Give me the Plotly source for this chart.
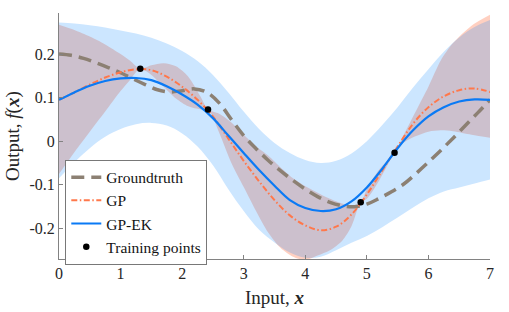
import plotly.graph_objects as go

# ---------------- data ----------------
x_grid = [0, 0.25, 0.5, 0.75, 1.0, 1.25, 1.5, 1.75, 2.0, 2.25, 2.5, 2.75, 3.0, 3.25,
          3.5, 3.75, 4.0, 4.25, 4.5, 4.75, 5.0, 5.25, 5.5, 5.75, 6.0, 6.25, 6.5, 6.75, 7.0]

x_truth = [0, 0.2, 0.4, 0.6, 0.8, 1.0, 1.2, 1.4, 1.6, 1.8, 2.0, 2.2, 2.4, 2.6, 2.8, 3.0,
           3.2, 3.4, 3.6, 3.8, 4.0, 4.2, 4.4, 4.6, 4.8, 5.0, 5.2, 5.4, 5.6, 5.8, 6.0,
           6.2, 6.4, 6.6, 6.8, 7.0]
y_truth = [0.2, 0.197, 0.19, 0.18, 0.169, 0.157, 0.143, 0.13, 0.118, 0.113, 0.116, 0.12,
           0.112, 0.088, 0.05, 0.013, -0.017, -0.044, -0.068, -0.09, -0.11, -0.127, -0.14,
           -0.148, -0.15, -0.144, -0.131, -0.116, -0.098, -0.074, -0.048, -0.021, 0.007,
           0.036, 0.065, 0.095]

gp_mean = [0.095, 0.112, 0.13, 0.146, 0.158, 0.165, 0.163, 0.148, 0.125, 0.095, 0.057,
           0.006, -0.045, -0.092, -0.135, -0.17, -0.193, -0.204, -0.196, -0.168, -0.122,
           -0.067, -0.012, 0.04, 0.078, 0.103, 0.117, 0.121, 0.113]

ek_mean = [0.095, 0.112, 0.127, 0.138, 0.144, 0.145, 0.14, 0.126, 0.107, 0.084, 0.053,
           0.013, -0.027, -0.066, -0.102, -0.135, -0.153, -0.16, -0.156, -0.138, -0.106,
           -0.063, -0.016, 0.025, 0.057, 0.078, 0.091, 0.096, 0.095]
ek_upper = [0.272, 0.27, 0.266, 0.261, 0.254, 0.247, 0.237, 0.224, 0.207, 0.184, 0.152,
            0.112, 0.068, 0.028, -0.004, -0.027, -0.043, -0.05, -0.045, -0.028, 0.0,
            0.037, 0.078, 0.123, 0.165, 0.205, 0.238, 0.262, 0.278]
ek_lower = [-0.085, -0.048, -0.016, 0.01, 0.028, 0.039, 0.042, 0.036, 0.018, -0.012,
            -0.055, -0.11, -0.16, -0.203, -0.232, -0.255, -0.267, -0.265, -0.25, -0.233,
            -0.217, -0.197, -0.175, -0.152, -0.131, -0.115, -0.106, -0.097, -0.088]

x_gp_band = [0, 0.25, 0.5, 0.75, 1.0, 1.15, 1.32, 1.5, 1.7, 1.9, 2.1, 2.3, 2.42, 2.6, 2.8,
             3.0, 3.2, 3.4, 3.6, 3.8, 4.0, 4.2, 4.4, 4.6, 4.75, 4.9, 5.0, 5.2, 5.45, 5.6,
             5.8, 6.0, 6.2, 6.4, 6.7, 7.0]
gp_upper = [0.267, 0.255, 0.24, 0.222, 0.2, 0.185, 0.166, 0.174, 0.179, 0.172, 0.148, 0.102,
            0.0725, 0.063, 0.043, 0.015, -0.012, -0.033, -0.06, -0.085, -0.103, -0.118,
            -0.132, -0.143, -0.148, -0.14, -0.11, -0.065, -0.0265, 0.015, 0.07, 0.125,
            0.185, 0.225, 0.265, 0.29]
gp_lower = [-0.075, -0.025, 0.022, 0.068, 0.115, 0.14, 0.166, 0.152, 0.125, 0.098, 0.08,
            0.073, 0.0725, 0.02, -0.05, -0.105, -0.16, -0.21, -0.245, -0.265, -0.272,
            -0.262, -0.25, -0.228, -0.195, -0.14, -0.132, -0.09, -0.0265, -0.003, 0.012,
            0.022, 0.025, 0.023, 0.015, 0.008]

x_train = [1.32, 2.42, 4.9, 5.45]
y_train = [0.166, 0.0725, -0.14, -0.0265]

x_ticks = [0, 1, 2, 3, 4, 5, 6, 7]
y_ticks = [-0.2, -0.1, 0, 0.1, 0.2]
y_ticktext = ["-0.2", "-0.1", "0", "0.1", "0.2"]

# ---------------- styles ----------------
FONT = "Liberation Serif"
GP_COLOR = "rgb(255,120,75)"
EK_COLOR = "rgb(10,122,245)"
GT_COLOR = "rgb(140,128,115)"
AX_COLOR = "rgb(130,130,130)"

fig = go.Figure()

# GP band (drawn first)
fig.add_trace(go.Scatter(x=x_gp_band, y=gp_upper, mode="lines", line=dict(width=0, shape="spline", smoothing=0.8),
                         showlegend=False, hoverinfo="skip"))
fig.add_trace(go.Scatter(x=x_gp_band, y=gp_lower, mode="lines", line=dict(width=0, shape="spline", smoothing=0.8),
                         fill="tonexty", fillcolor="rgba(255,100,50,0.30)", showlegend=False, hoverinfo="skip"))
# GP-EK band
fig.add_trace(go.Scatter(x=x_grid, y=ek_upper, mode="lines", line=dict(width=0, shape="spline"),
                         showlegend=False, hoverinfo="skip"))
fig.add_trace(go.Scatter(x=x_grid, y=ek_lower, mode="lines", line=dict(width=0, shape="spline"),
                         fill="tonexty", fillcolor="rgba(0,128,255,0.20)", showlegend=False, hoverinfo="skip"))

fig.add_trace(go.Scatter(x=x_truth, y=y_truth, mode="lines", name="Groundtruth",
                         line=dict(color=GT_COLOR, width=3.5, dash="13px,7px", shape="spline")))
fig.add_trace(go.Scatter(x=x_grid, y=gp_mean, mode="lines", name="GP",
                         line=dict(color=GP_COLOR, width=2, dash="6px,2.5px,1.5px,2.5px", shape="spline")))
fig.add_trace(go.Scatter(x=x_grid, y=ek_mean, mode="lines", name="GP-EK",
                         line=dict(color=EK_COLOR, width=2.2, shape="spline")))
fig.add_trace(go.Scatter(x=x_train, y=y_train, mode="markers", name="Training points",
                         marker=dict(color="black", size=6.5)))

axis_common = dict(showgrid=False, zeroline=False, showline=True, linecolor=AX_COLOR, linewidth=1,
                   ticks="inside", ticklen=4, tickcolor=AX_COLOR, tickwidth=1, automargin=False,
                   tickfont=dict(family=FONT, size=16, color="rgb(38,38,38)"))

fig.update_xaxes(range=[0, 7], tickvals=x_ticks, **axis_common)
fig.update_yaxes(range=[-0.27, 0.294], tickvals=y_ticks, ticktext=y_ticktext, **axis_common)

fig.update_layout(
    width=509, height=312,
    margin=dict(l=59, r=19, t=13, b=53),
    plot_bgcolor="white", paper_bgcolor="white",
    font=dict(family=FONT, size=16, color="rgb(38,38,38)"),
    legend=dict(x=0.0146, y=0.404, xanchor="left", yanchor="top", traceorder="normal",
                bgcolor="white", bordercolor="rgb(120,120,120)", borderwidth=1,
                font=dict(family=FONT, size=15.5, color="rgb(20,20,20)"),
                tracegroupgap=0, itemwidth=30),
    annotations=[
        dict(text="Input, <b><i>x</i></b>", xref="paper", yref="paper", x=0.5, y=0,
             xanchor="center", yanchor="top", yshift=-26, showarrow=False,
             font=dict(family=FONT, size=19, color="rgb(38,38,38)")),
        dict(text="Output, <i>f</i>(<b><i>x</i></b>)", xref="paper", yref="paper", x=0, y=0.5,
             xanchor="center", yanchor="middle", xshift=-46, textangle=-90, showarrow=False,
             font=dict(family=FONT, size=19, color="rgb(38,38,38)")),
    ],
)

fig.write_html("out.html", config={"displayModeBar": False},
               post_script="document.body.style.margin='0px';")
